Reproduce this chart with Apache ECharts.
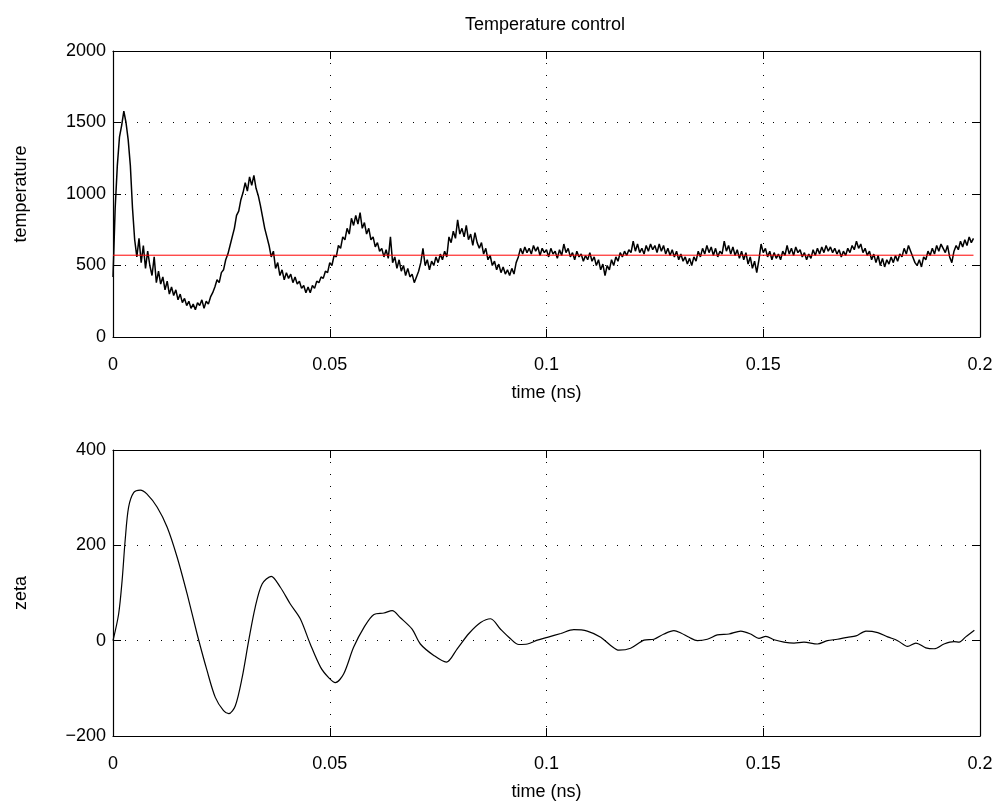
<!DOCTYPE html>
<html>
<head>
<meta charset="utf-8">
<script src="https://cdn.jsdelivr.net/npm/echarts@6/dist/echarts.min.js"></script>
<style>
html,body{margin:0;padding:0;background:#fff;}
#chart{width:1006px;height:812px;}
</style>
</head>
<body>
<div id="chart"></div>
<script>
// ---- data ----
const titleText = 'Temperature control';
const xTicks = [0, 0.05, 0.1, 0.15, 0.2];
const tempTicks = [0, 500, 1000, 1500, 2000];
const zetaTicks = [-200, 0, 200, 400];
const targetTemperature = 572;
const tempStep = 0.0005; // ns between temperature samples
const temperature = [
  420, 900, 1200, 1400, 1480, 1580, 1500, 1380, 1200, 900, 680, 560, 690, 520, 640, 480, 600, 500, 430, 560,
  380, 460, 370, 420, 330, 390, 300, 350, 290, 330, 260, 300, 240, 270, 220, 250, 200, 230, 190, 240,
  220, 260, 200, 250, 230, 280, 310, 350, 400, 380, 450, 470, 540, 580, 640, 700, 760, 850, 880, 960,
  1010, 1080, 1020, 1120, 1060, 1130, 1040, 990, 920, 840, 760, 700, 640, 560, 600, 480, 520, 430, 470, 400,
  450, 410, 440, 380, 420, 370, 390, 340, 360, 310, 350, 310, 360, 340, 390, 380, 420, 410, 460, 450,
  520, 500, 570, 560, 640, 620, 700, 680, 760, 720, 830, 780, 850, 790, 870, 760, 800, 720, 760, 680,
  700, 630, 660, 600, 620, 560, 610, 550, 700, 520, 560, 480, 540, 460, 500, 430, 480, 420, 440, 380,
  420, 460, 520, 620, 500, 540, 470, 530, 500, 560, 520, 580, 540, 600, 560, 700, 660, 740, 690, 820,
  720, 760, 700, 780, 680, 720, 640, 730, 660, 620, 660, 580, 620, 540, 570, 500, 530, 470, 510, 450,
  490, 440, 470, 430, 480, 440, 520, 560, 620, 580, 630, 590, 620, 580, 640, 600, 630, 570, 620, 590,
  610, 560, 620, 580, 600, 550, 610, 570, 650, 590, 620, 560, 590, 540, 600, 560, 580, 530, 570, 540,
  590, 530, 560, 500, 540, 470, 510, 430, 500, 470, 540, 500, 560, 530, 590, 560, 600, 570, 610, 590,
  670, 600, 650, 590, 620, 580, 640, 600, 650, 610, 640, 590, 650, 600, 640, 580, 620, 570, 610, 560,
  600, 540, 580, 530, 560, 510, 550, 500, 560, 530, 600, 560, 620, 580, 640, 590, 630, 570, 620, 560,
  600, 580, 670, 600, 640, 580, 630, 570, 610, 550, 600, 540, 590, 510, 560, 480, 530, 450, 540, 650,
  590, 620, 560, 600, 540, 590, 550, 580, 540, 600, 570, 640, 580, 620, 570, 630, 590, 610, 560, 590,
  540, 580, 550, 610, 570, 620, 580, 630, 590, 640, 600, 630, 590, 620, 580, 610, 560, 600, 570, 620,
  590, 640, 610, 670, 620, 650, 590, 620, 570, 600, 540, 580, 520, 570, 500, 550, 490, 540, 510, 560,
  520, 570, 530, 580, 560, 620, 580, 640, 600, 560, 520, 500, 540, 490, 560, 540, 600, 570, 620, 580,
  640, 600, 650, 620, 590, 640, 560, 520, 600, 640, 610, 670, 630, 680, 640, 700, 660, 690
];
const zetaTime = [
  0, 0.0013, 0.0021, 0.0028, 0.0036, 0.0048, 0.0063, 0.0078, 0.0102, 0.0125, 0.0148, 0.0171, 0.0194,
  0.0217, 0.0236, 0.0255, 0.0267, 0.0282, 0.0298, 0.0313, 0.0328, 0.0344, 0.0365, 0.0386, 0.0409,
  0.0432, 0.0455, 0.0479, 0.0498, 0.0513, 0.0532, 0.0555, 0.0579, 0.0602, 0.0625, 0.0644, 0.0663,
  0.069, 0.0709, 0.074, 0.0769, 0.0794, 0.0821, 0.0848, 0.0871, 0.0894, 0.0917, 0.0936, 0.0956,
  0.0979, 0.1002, 0.1033, 0.1063, 0.1094, 0.1125, 0.1148, 0.1167, 0.1194, 0.1225, 0.1248, 0.1271,
  0.1294, 0.131, 0.1329, 0.1348, 0.1371, 0.1394, 0.1421, 0.1448, 0.1471, 0.149, 0.1506, 0.1525,
  0.1548, 0.1571, 0.1594, 0.1625, 0.1648, 0.1671, 0.1694, 0.1714, 0.1737, 0.1764, 0.1787, 0.181,
  0.1833, 0.1852, 0.1875, 0.1894, 0.1917, 0.194, 0.1952, 0.1967, 0.1987
];
const zeta = [
  0, 56, 126, 210, 280, 311, 316, 308, 280, 238, 175, 98, 14,
  -63, -119, -147, -153, -137, -77, 0, 70, 119, 135, 112, 77,
  46, -7, -56, -78, -88, -70, -14, 28, 55, 58, 63, 48,
  24, -7, -31, -45, -17, 15, 38, 46, 24, 4, -8, -7,
  1, 7, 15, 23, 20, 7, -10, -20, -16, 1, 3, 14,
  21, 16, 7, 0, 3, 12, 14, 20, 14, 5, 9, 2,
  -3, -5, -3, -7, 0, 3, 7, 10, 20, 17, 8, 0,
  -12, -5, -15, -17, -7, -2, -3, 8, 22
];

// ---- chart ----
const FONT = '"Liberation Sans", Arial, Helvetica, sans-serif';
const chart = echarts.init(document.getElementById('chart'), null, {renderer: 'canvas'});

const tempData = temperature.map((v, i) => [+(i * tempStep).toFixed(4), v]);
const zetaData = zeta.map((v, i) => [zetaTime[i], v]);
const lastT = tempData[tempData.length - 1][0];
const targetData = [[0, targetTemperature], [lastT, targetTemperature]];

const fmtX = v => String(+(+v).toFixed(2));
const fmtY = v => String(Math.round(v)).replace('-', '\u2212');

const dotted = {color: '#000', width: 1, type: [1, 11]};
const txt = {color: '#000', fontFamily: FONT, fontSize: 18};
const frame = {color: '#000', width: 1.2};

function xMain(gi, name) {
  return {
    type: 'value', gridIndex: gi, position: 'bottom',
    min: xTicks[0], max: xTicks[xTicks.length - 1], interval: xTicks[1] - xTicks[0],
    name: name, nameLocation: 'middle', nameGap: 47, nameTextStyle: txt,
    axisLine: {show: true, onZero: false, lineStyle: frame},
    axisTick: {show: true, inside: true, length: 8, lineStyle: {color: '#000'}},
    axisLabel: {show: true, margin: 19, formatter: fmtX, showMinLabel: true, showMaxLabel: true, ...txt},
    splitLine: {show: true, lineStyle: dotted}
  };
}
function xTop(gi) {
  return {
    type: 'value', gridIndex: gi, position: 'top',
    min: xTicks[0], max: xTicks[xTicks.length - 1], interval: xTicks[1] - xTicks[0],
    axisLine: {show: true, onZero: false, lineStyle: frame},
    axisTick: {show: true, inside: true, length: 8, lineStyle: {color: '#000'}},
    axisLabel: {show: false}, splitLine: {show: false}
  };
}
function yMain(gi, ticks, name) {
  return {
    type: 'value', gridIndex: gi, position: 'left',
    min: ticks[0], max: ticks[ticks.length - 1], interval: ticks[1] - ticks[0],
    name: name, nameLocation: 'middle', nameGap: 83, nameTextStyle: txt,
    axisLine: {show: true, onZero: false, lineStyle: frame},
    axisTick: {show: true, inside: true, length: 8, lineStyle: {color: '#000'}},
    axisLabel: {show: true, margin: 7, formatter: fmtY, showMinLabel: true, showMaxLabel: true, ...txt},
    splitLine: {show: true, lineStyle: dotted}
  };
}
function yRight(gi, ticks) {
  return {
    type: 'value', gridIndex: gi, position: 'right',
    min: ticks[0], max: ticks[ticks.length - 1], interval: ticks[1] - ticks[0],
    axisLine: {show: true, onZero: false, lineStyle: frame},
    axisTick: {show: true, inside: true, length: 8, lineStyle: {color: '#000'}},
    axisLabel: {show: false}, splitLine: {show: false}
  };
}

chart.setOption({
  animation: false,
  backgroundColor: '#fff',
  title: {
    text: titleText, left: 540, top: 11, textAlign: 'center',
    textStyle: {color: '#000', fontFamily: FONT, fontSize: 18, fontWeight: 'normal'}
  },
  grid: [
    {left: 113, top: 51, width: 867, height: 286, containLabel: false},
    {left: 113, top: 450, width: 867, height: 286, containLabel: false}
  ],
  xAxis: [xMain(0, 'time (ns)'), xTop(0), xMain(1, 'time (ns)'), xTop(1)],
  yAxis: [yMain(0, tempTicks, 'temperature'), yRight(0, tempTicks), yMain(1, zetaTicks, 'zeta'), yRight(1, zetaTicks)],
  series: [
    {
      type: 'line', xAxisIndex: 0, yAxisIndex: 0, data: tempData,
      symbol: 'none', lineStyle: {color: '#000', width: 1.5}, z: 3
    },
    {
      type: 'line', xAxisIndex: 0, yAxisIndex: 0, data: targetData,
      symbol: 'none', lineStyle: {color: '#ff0000', width: 1}, z: 4
    },
    {
      type: 'line', xAxisIndex: 2, yAxisIndex: 2, data: zetaData,
      symbol: 'none', smooth: 0.3, lineStyle: {color: '#000', width: 1.2}, z: 3
    }
  ]
});
</script>
</body>
</html>
